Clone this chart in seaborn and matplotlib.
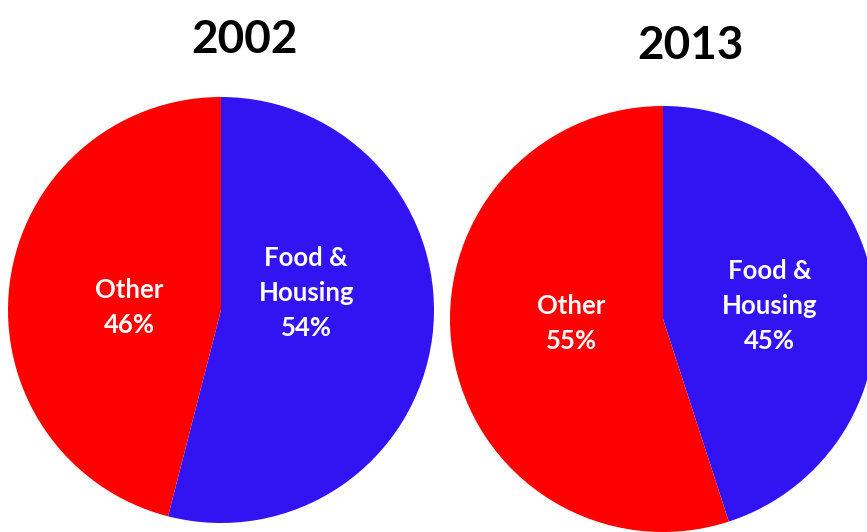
import matplotlib
matplotlib.use("Agg")
import matplotlib.pyplot as plt
import seaborn as sns

years = ["2002", "2013"]
categories = ["Food &\nHousing", "Other"]
food_housing = [54, 45]
other = [46, 55]
colors = ["#3214F2", "#FF0000"]

sns.set_theme(style="white")
plt.rcParams["font.family"] = ["Lato", "DejaVu Sans"]

W, H = 867, 532
fig = plt.figure(figsize=(W / 100, H / 100), dpi=100)
fig.patch.set_facecolor("white")

# pie centres and radius in pixels
centres = [(221, 310), (663, 319)]
radius = 213
# label offsets relative to pie centre (unit radius)
food_pos = [(0.40, 0.08), (0.50, 0.06)]
other_pos = [(-0.43, 0.01), (-0.43, -0.02)]
title_pos = [(244, 40), (690, 46)]

for i, year in enumerate(years):
    cx, cy = centres[i]
    ax = fig.add_axes([(cx - radius) / W, (H - cy - radius) / H,
                       2 * radius / W, 2 * radius / H])
    vals = [food_housing[i], other[i]]
    ax.pie(vals, colors=colors, startangle=90, counterclock=False,
           radius=1, wedgeprops=dict(linewidth=0))
    ax.set_xlim(-1, 1)
    ax.set_ylim(-1, 1)
    ax.set_aspect("equal")
    ax.axis("off")

    fx, fy = food_pos[i]
    ax.text(fx, fy, f"{categories[0]}\n{food_housing[i]}%", ha="center",
            va="center", color="white", fontsize=18.5, fontweight="bold",
            linespacing=1.55)
    ox, oy = other_pos[i]
    ax.text(ox, oy, f"{categories[1]}\n{other[i]}%", ha="center",
            va="center", color="white", fontsize=18.5, fontweight="bold",
            linespacing=1.55)

    tx, ty = title_pos[i]
    fig.text(tx / W, 1 - ty / H, year, ha="center", va="center",
             fontsize=33, fontweight="bold", color="black")

fig.savefig("out.png", dpi=100, facecolor="white")
